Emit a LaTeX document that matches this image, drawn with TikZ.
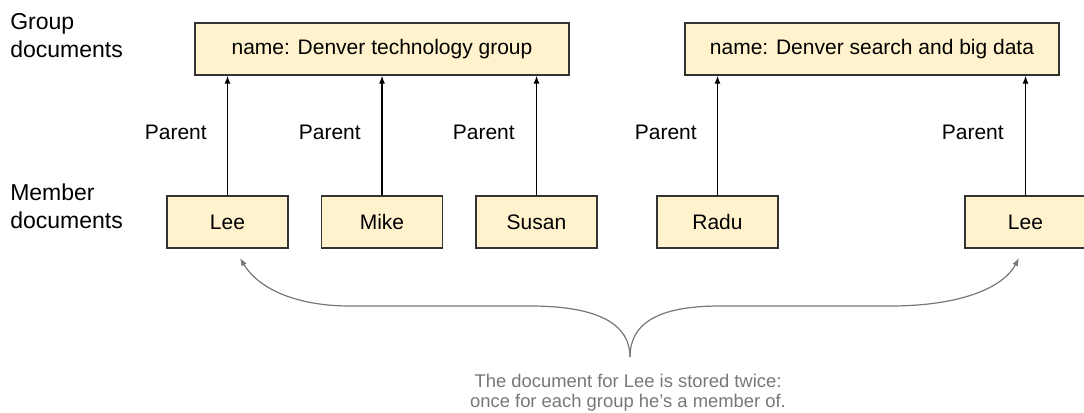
\documentclass[tikz,border=0pt]{standalone}
\usepackage{fontspec}
\setmainfont{Liberation Sans}
\usetikzlibrary{arrows.meta}
\definecolor{boxfill}{HTML}{FFF2CC}
\definecolor{boxline}{HTML}{333333}
\definecolor{notegray}{HTML}{777777}
\begin{document}
\begin{tikzpicture}[x=0.75pt,y=-0.75pt,
  doc/.style={draw=boxline, fill=boxfill, line width=1pt, inner sep=0pt,
    minimum height=39pt, font=\fontsize{15.75pt}{18pt}\selectfont},
  member/.style={doc, minimum width=90.75pt},
  group/.style={doc, minimum width=280.5pt},
  rowlabel/.style={anchor=west, inner sep=0pt, align=left,
    font=\fontsize{17.25pt}{21pt}\selectfont},
  parentlbl/.style={anchor=east, inner sep=0pt, font=\fontsize{15.75pt}{18pt}\selectfont},
  parentarrow/.style={draw=black, line width=0.9pt, -{Latex[length=6pt,width=4.5pt]}},
  notearrow/.style={draw=notegray, line width=0.9pt, -{Latex[length=6pt,width=4.5pt]}},
  note/.style={anchor=north, inner sep=0pt, align=center, text=notegray,
    font=\fontsize{13.8pt}{15pt}\selectfont}]
\useasboundingbox (0,0) rectangle (1084,412);

% row labels
\node[rowlabel] (glabel) at (10,36) {Group\\documents};
\node[rowlabel] (mlabel) at (10,206.5) {Member\\documents};

% group documents
\node[group] (g1) at (382,49) {name: Denver technology group};
\node[group] (g2) at (872,49) {name: Denver search and big data};

% member documents
\node[member] (lee1) at (227.5,222) {Lee};
\node[member] (mike) at (382,222) {Mike};
\node[member] (susan) at (536.5,222) {Susan};
\node[member] (radu) at (717.5,222) {Radu};
\node[member] (lee2) at (1025.5,222) {Lee};

% parent arrows
\draw[parentarrow] (lee1.north) -- (lee1.north |- g1.south);
\draw[parentarrow] (mike.north) -- (mike.north |- g1.south);
\draw[parentarrow] (susan.north) -- (susan.north |- g1.south);
\draw[parentarrow] (radu.north) -- (radu.north |- g2.south);
\draw[parentarrow] (lee2.north) -- (lee2.north |- g2.south);

% parent labels
\node[parentlbl] (p1) at (207,132) {Parent};
\node[parentlbl] (p2) at (361,132) {Parent};
\node[parentlbl] (p3) at (515,132) {Parent};
\node[parentlbl] (p4) at (697,132) {Parent};
\node[parentlbl] (p5) at (1004,132) {Parent};

% note brace
\coordinate (apex) at (630,357);
\coordinate (tipl) at (240,258);
\coordinate (tipr) at (1019,258);
\draw[notearrow] (apex) .. controls (630,325) and (600,306) .. (530,306)
  -- (350,306) .. controls (295,306) and (258,288) .. (tipl);
\draw[notearrow] (apex) .. controls (630,325) and (655,306) .. (720,306)
  -- (890,306) .. controls (960,306) and (1003,288) .. (tipr);

\node[note] (caption) at (628,373.5) {The document for Lee is stored twice:\\once for each group he's a member of.};
\end{tikzpicture}
\end{document}
